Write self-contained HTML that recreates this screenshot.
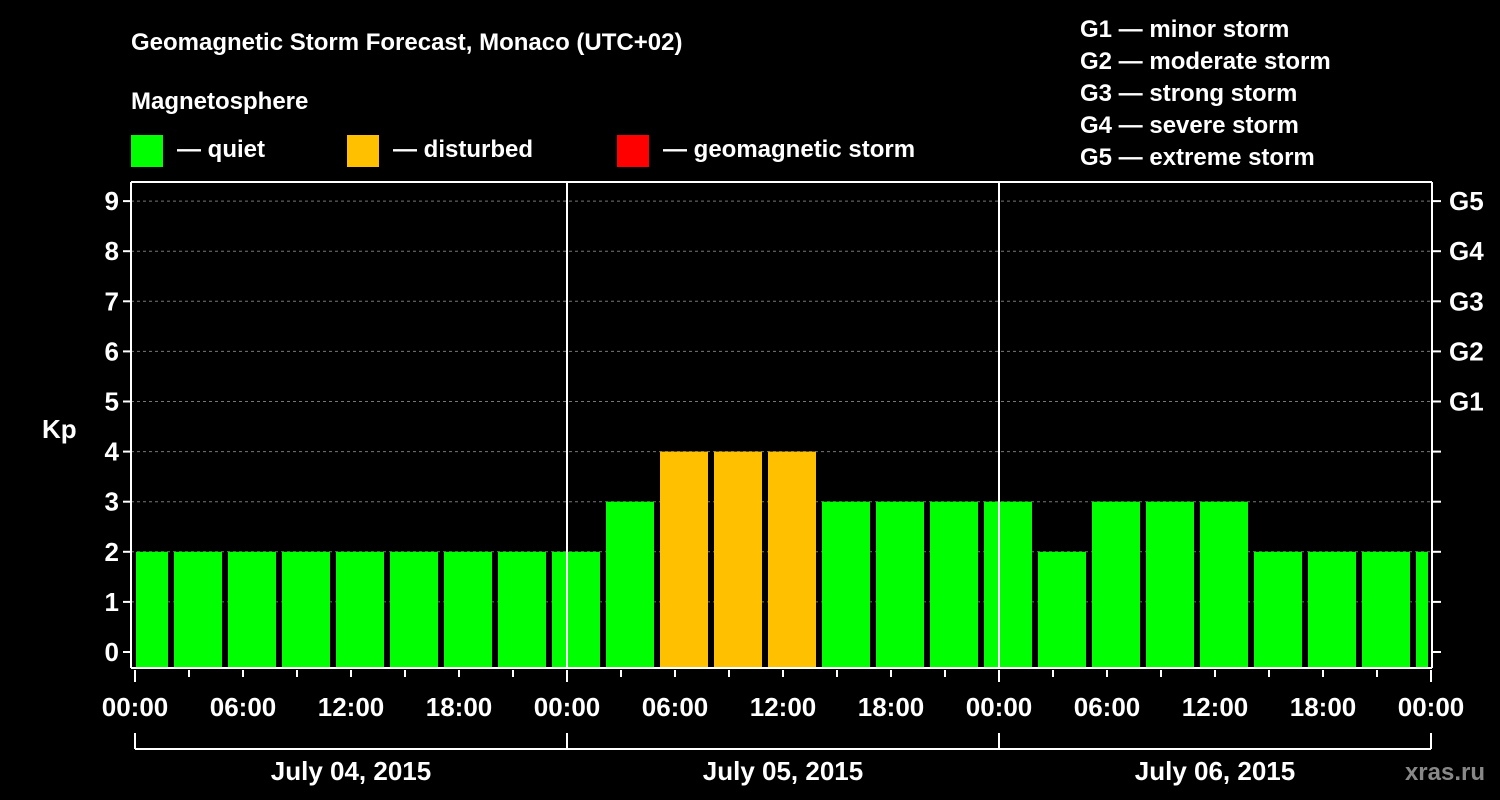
<!DOCTYPE html>
<html><head><meta charset="utf-8"><style>
body{margin:0;background:#000;}
svg{display:block;font-family:"Liberation Sans",Arial,sans-serif;font-weight:bold;}
</style></head><body>
<svg id="c" width="1500" height="800" viewBox="0 0 1500 800">
<rect width="1500" height="800" fill="#000"/>
<text x="131" y="50" fill="#fff" font-size="24">Geomagnetic Storm Forecast, Monaco (UTC+02)</text>
<text x="131" y="109" fill="#fff" font-size="24">Magnetosphere</text>
<rect x="131" y="135" width="32" height="32" fill="#00ff00"/>
<text x="177" y="157" fill="#fff" font-size="24">— quiet</text>
<rect x="347" y="135" width="32" height="32" fill="#ffc000"/>
<text x="393" y="157" fill="#fff" font-size="24">— disturbed</text>
<rect x="617" y="135" width="32" height="32" fill="#ff0000"/>
<text x="663" y="157" fill="#fff" font-size="24">— geomagnetic storm</text>
<g fill="#fff" font-size="24">
<text x="1080" y="37">G1 — minor storm</text>
<text x="1080" y="69">G2 — moderate storm</text>
<text x="1080" y="101">G3 — strong storm</text>
<text x="1080" y="133">G4 — severe storm</text>
<text x="1080" y="165">G5 — extreme storm</text>
</g>
<text x="42" y="438" fill="#fff" font-size="26">Kp</text>
<text x="1485" y="780" fill="#888" font-size="24" text-anchor="end">xras.ru</text>
<g id="grid"></g><g id="bars"></g><g id="axes"></g>
</svg>
<script>
const kpValues=[2,2,2,2,2,2,2,2,2,3,4,4,4,3,3,3,3,2,3,3,3,2,2,2,2];
const startHour=-1; // first 3h slot starts 23:00 previous day (local)
const yTicks=[0,1,2,3,4,5,6,7,8,9];
const gLabels=["G1","G2","G3","G4","G5"];
const gLevels=[5,6,7,8,9];
const xTickLabels=["00:00","06:00","12:00","18:00","00:00","06:00","12:00","18:00","00:00","06:00","12:00","18:00","00:00"];
const dayLabels=["July 04, 2015","July 05, 2015","July 06, 2015"];
const NS="http://www.w3.org/2000/svg";
const L=131,R=1432,T=182,B=668,X0=135,hourPx=18,totalH=72;
const xs=h=>X0+h*hourPx;
const ys=v=>652-v*50.1;
function mk(tag,at,parent,txt){const e=document.createElementNS(NS,tag);for(const k in at)e.setAttribute(k,at[k]);if(txt!=null)e.textContent=txt;document.getElementById(parent).appendChild(e);return e;}
yTicks.forEach(v=>{
 if(v>0){const g=mk('line',{x1:L,x2:R,y1:ys(v),y2:ys(v),stroke:'#777','stroke-dasharray':'3,3'},'grid');
 
 }
 const t=mk('line',{x1:L-8,x2:L,y1:ys(v),y2:ys(v),stroke:'#fff','stroke-width':2},'axes');
 
 
 const t2=mk('line',{x1:R,x2:R+9,y1:ys(v),y2:ys(v),stroke:'#fff','stroke-width':2},'axes');
 
 
 const l=mk('text',{x:L-12,y:ys(v)+9,fill:'#fff','font-size':26,'text-anchor':'end'},'axes',String(v));
 
 
});
gLevels.forEach((v,i)=>{
 const l=mk('text',{x:R+17,y:ys(v)+9,fill:'#fff','font-size':26},'axes',gLabels[i]);
 
 
});
kpValues.forEach((v,i)=>{
 let h0=startHour+3*i,h1=h0+3;
 let a=Math.max(xs(Math.max(h0,0))+3, xs(h0)+3), b=Math.min(xs(h1)-3, xs(totalH)-3);
 if(h0<0)a=xs(0)+1;
 const col=v>=5?'#ff0000':(v>=4?'#ffc000':'#00ff00');
 const r=mk('rect',{x:a,y:ys(v),width:b-a,height:B-ys(v),fill:col},'bars');
 
 
});
[[L,T,L,B],[L,B,R,B],[R,T,R,B],[L,T,R,T]].forEach(p=>{
 const f=mk('line',{x1:p[0],y1:p[1],x2:p[2],y2:p[3],stroke:'#fff','stroke-width':2},'axes');
 
 
});
for(let d=1;d<3;d++){
 const s=mk('line',{x1:xs(24*d),x2:xs(24*d),y1:T,y2:B,stroke:'#fff','stroke-width':2},'axes');
 
 
}
for(let h=0;h<=totalH;h+=3){
 const big=h%24===0;
 const t=mk('line',{x1:xs(h),x2:xs(h),y1:B+2,y2:B+(big?14:9),stroke:'#fff','stroke-width':2},'axes');
 
 
}
xTickLabels.forEach((s,i)=>{
 const l=mk('text',{x:xs(i*6),y:716,fill:'#fff','font-size':26,'text-anchor':'middle'},'axes',s);
 
 
});
const br=mk('line',{x1:xs(0),x2:xs(totalH),y1:749,y2:749,stroke:'#fff','stroke-width':2},'axes');


for(let d=0;d<=3;d++){
 const v=mk('line',{x1:xs(24*d),x2:xs(24*d),y1:733,y2:749,stroke:'#fff','stroke-width':2},'axes');
 
 
}
dayLabels.forEach((s,i)=>{
 const l=mk('text',{x:xs(24*i+12),y:780,fill:'#fff','font-size':26,'text-anchor':'middle'},'axes',s);
 
 
});
</script>
</body></html>
